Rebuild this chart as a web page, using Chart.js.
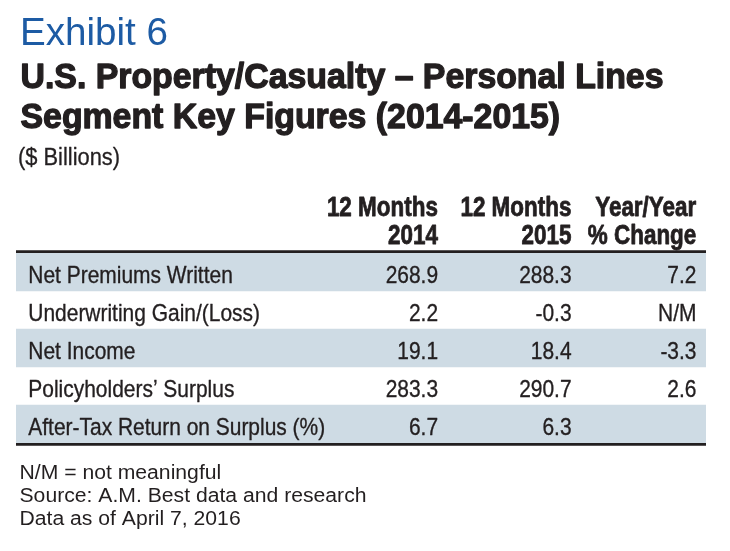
<!DOCTYPE html>
<html>
<head>
<meta charset="utf-8">
<script src="https://cdn.jsdelivr.net/npm/chart.js@4.4.1/dist/chart.umd.min.js"></script>
<style>
  html, body { margin: 0; padding: 0; background: #ffffff; }
  #wrap { position: relative; width: 730px; height: 551px; }
</style>
</head>
<body>
<div id="wrap"><canvas id="c" width="730" height="551"></canvas></div>
<script>
// ---- data ----
const exhibitLabel = 'Exhibit 6';
const titleLines = ['U.S. Property/Casualty \u2013 Personal Lines', 'Segment Key Figures (2014-2015)'];
const unitLabel = '($ Billions)';
const columnHeaders = [['12 Months', '2014'], ['12 Months', '2015'], ['Year/Year', '% Change']];
const rowLabels = ['Net Premiums Written', 'Underwriting Gain/(Loss)', 'Net Income', 'Policyholders\u2019 Surplus', 'After-Tax Return on Surplus (%)'];
const months2014 = [268.9, 2.2, 19.1, 283.3, 6.7];
const months2015 = [288.3, -0.3, 18.4, 290.7, 6.3];
const yoyChange = [7.2, 'N/M', -3.3, 2.6, null];
const footnotes = ['N/M = not meaningful', 'Source: A.M. Best data and research', 'Data as of April 7, 2016'];

// ---- styles ----
const INK = '#231f20';
const BLUE = '#1d5ba4';
const SHADE = '#cedbe4';
const SANS = '"Liberation Sans", Arial, Helvetica, sans-serif';

function fmt(v) {
  if (v === null || v === undefined) return '';
  if (typeof v === 'string') return v;
  return v.toFixed(1);
}

function scaleFor(ctx, font, ref, target) {
  ctx.save(); ctx.font = font;
  const w = ctx.measureText(ref).width;
  ctx.restore();
  return w > 0 ? target / w : 1;
}

function drawText(ctx, text, x, y, font, color, sx, align, stroke) {
  ctx.save();
  ctx.font = font;
  ctx.fillStyle = color;
  ctx.textBaseline = 'alphabetic';
  ctx.textAlign = align || 'left';
  ctx.translate(x, y);
  ctx.scale(sx, 1);
  ctx.fillText(text, 0, 0);
  if (stroke) {
    ctx.strokeStyle = color;
    ctx.lineWidth = stroke;
    ctx.lineJoin = 'round';
    ctx.strokeText(text, 0, 0);
  }
  ctx.restore();
}

const tablePlugin = {
  id: 'tablePlugin',
  afterDatasetsDraw(chart) {
    const ctx = chart.ctx;
    const area = chart.chartArea;
    const xs = chart.scales.x;
    const ys = chart.scales.y;

    // fonts
    const fExhibit = '38px ' + SANS;
    const fTitle = 'bold 35px ' + SANS;
    const fUnit = '23px ' + SANS;
    const fHead = 'bold 27px ' + SANS;
    const fCell = '24.5px ' + SANS;
    const fFoot = '20px ' + SANS;

    const sExhibit = scaleFor(ctx, fExhibit, exhibitLabel, 148);
    const sTitle = scaleFor(ctx, fTitle, titleLines[0], 643);
    const sUnit = scaleFor(ctx, fUnit, unitLabel, 102);
    const sHead = scaleFor(ctx, fHead, columnHeaders[0][0], 111);
    const sCell = scaleFor(ctx, fCell, rowLabels[0], 204.5);
    const sFoot = scaleFor(ctx, fFoot, footnotes[1], 347);

    // heading block
    drawText(ctx, exhibitLabel, 20, 45, fExhibit, BLUE, sExhibit, 'left', 0);
    drawText(ctx, titleLines[0], 20.5, 88.3, fTitle, INK, sTitle, 'left', 1.3);
    drawText(ctx, titleLines[1], 20.5, 128.3, fTitle, INK, sTitle, 'left', 1.3);
    drawText(ctx, unitLabel, 18, 164.5, fUnit, INK, sUnit, 'left', 0.3);

    // column positions (right edges) on the x scale
    const colPos = [0.612, 0.8055, 0.9865];
    const colX = colPos.map(p => xs.getPixelForValue(p));

    // column headers
    columnHeaders.forEach((h, j) => {
      drawText(ctx, h[0], colX[j] - 0.4, area.top - 37.3, fHead, INK, sHead, 'right', 0.8);
      drawText(ctx, h[1], colX[j] - 0.4, area.top - 8.7, fHead, INK, sHead, 'right', 0.8);
    });

    // rules
    ctx.save();
    ctx.strokeStyle = INK;
    ctx.lineWidth = 2.7;
    ctx.beginPath();
    ctx.moveTo(area.left, area.top - 1.35);
    ctx.lineTo(area.right, area.top - 1.35);
    ctx.moveTo(area.left, area.bottom + 1.35);
    ctx.lineTo(area.right, area.bottom + 1.35);
    ctx.stroke();
    ctx.restore();

    // cells
    const labelX = area.left + 12.3;
    rowLabels.forEach((lab, i) => {
      const y = ys.getPixelForValue(i) + 10.6;
      drawText(ctx, lab, labelX, y, fCell, INK, sCell, 'left', 0.35);
      drawText(ctx, fmt(months2014[i]), colX[0] - 0.2, y, fCell, INK, sCell, 'right', 0.35);
      drawText(ctx, fmt(months2015[i]), colX[1] - 0.2, y, fCell, INK, sCell, 'right', 0.35);
      drawText(ctx, fmt(yoyChange[i]), colX[2] - 0.2, y, fCell, INK, sCell, 'right', 0.35);
    });

    // footnotes
    const footBase = [478.8, 502.1, 525.4];
    footnotes.forEach((t, k) => {
      drawText(ctx, t, 19.5, footBase[k], fFoot, INK, sFoot, 'left', 0);
    });
  }
};

const ctx = document.getElementById('c').getContext('2d');
new Chart(ctx, {
  type: 'bar',
  data: {
    labels: rowLabels,
    datasets: [{
      label: 'rows',
      data: rowLabels.map(() => [0, 1]),
      backgroundColor: rowLabels.map((_, i) => i % 2 === 0 ? SHADE : 'rgba(255,255,255,0)'),
      borderWidth: 0,
      barPercentage: 1,
      categoryPercentage: 1
    }]
  },
  options: {
    indexAxis: 'y',
    responsive: false,
    animation: false,
    events: [],
    layout: { padding: { top: 253, bottom: 108, left: 16, right: 24 } },
    plugins: {
      legend: { display: false },
      title: { display: false },
      tooltip: { enabled: false }
    },
    scales: {
      x: { display: false, min: 0, max: 1 },
      y: { display: false }
    }
  },
  plugins: [tablePlugin]
});
</script>
</body>
</html>
